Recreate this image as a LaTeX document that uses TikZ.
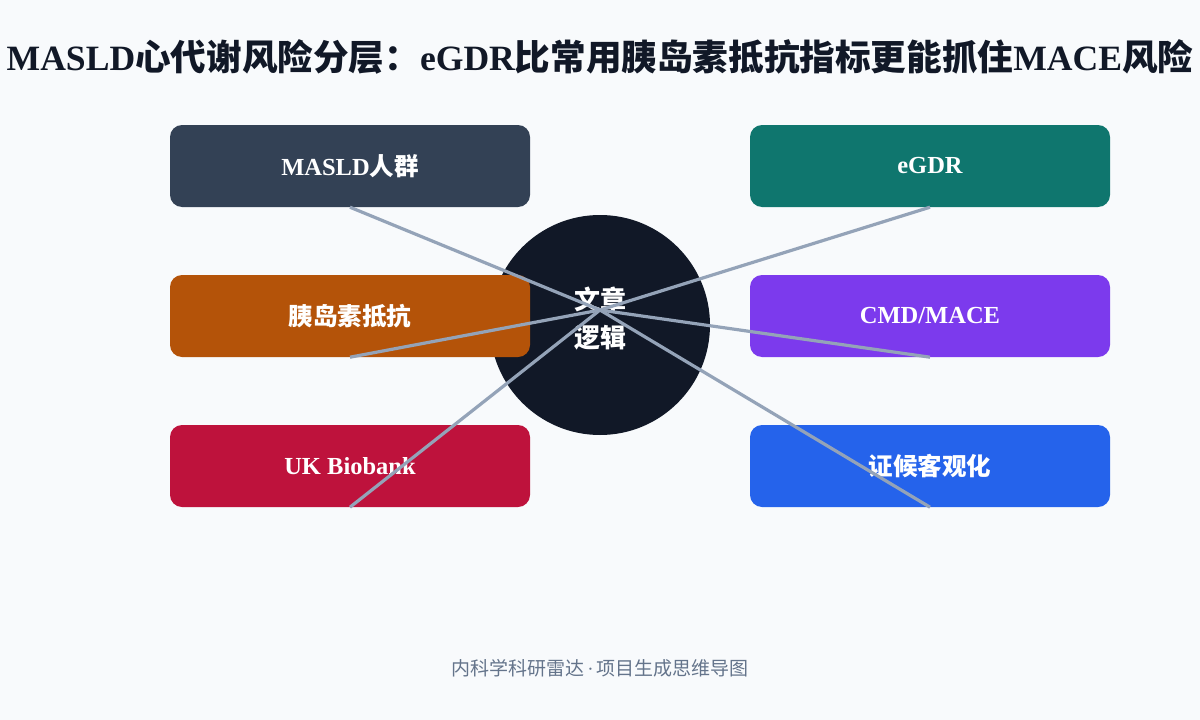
\documentclass[tikz,border=0pt]{standalone}
\usepackage{fontspec}
\setmainfont{Liberation Serif}
\newfontfamily\cjk{Noto Sans CJK SC}
\newcommand{\zh}[1]{{\cjk #1}}
\usetikzlibrary{positioning}

\definecolor{bgc}{HTML}{F8FAFC}
\definecolor{ink}{HTML}{111827}
\definecolor{slate}{HTML}{334155}
\definecolor{teal}{HTML}{0F766E}
\definecolor{amber}{HTML}{B45309}
\definecolor{violet}{HTML}{7C3AED}
\definecolor{rose}{HTML}{BE123C}
\definecolor{azure}{HTML}{2563EB}
\definecolor{wire}{HTML}{94A3B8}
\definecolor{muted}{HTML}{64748B}

\begin{document}
\begin{tikzpicture}[
  x=1pt, y=-1pt,
  card/.style={rounded corners=12pt, minimum width=360pt, minimum height=82pt, text=white,
    font=\bfseries\fontsize{24.5}{28}\selectfont},
  hub/.style={circle, fill=ink, minimum size=220pt, text=white, align=center,
    font=\bfseries\fontsize{26}{38}\selectfont},
  link/.style={draw=wire, line width=3.2pt}
]
\fill[bgc] (0,0) rectangle (1200,720);
\useasboundingbox (0,0) rectangle (1200,720);

\node[text=ink, inner sep=0pt, font=\bfseries\fontsize{35.6}{40}\selectfont] (title) at (600,57)
  {MASLD\zh{心代谢风险分层：}eGDR\zh{比常用胰岛素抵抗指标更能抓住}MACE\zh{风险}};

\node[hub] (core) at (600,325) {};
\node[text=white, align=center, font=\bfseries\fontsize{26}{38}\selectfont] (corelbl) at (600,319)
  {\zh{文章}\\\zh{逻辑}};
\coordinate (knot) at (600,310);

\node[card, fill=slate] (masld) at (350,166) {MASLD\zh{人群}};
\node[card, fill=amber] (ir) at (350,316) {\zh{胰岛素抵抗}};
\node[card, fill=rose] (ukb) at (350,466) {UK Biobank};
\node[card, fill=teal] (egdr) at (930,166) {eGDR};
\node[card, fill=violet] (cmd) at (930,316) {CMD/MACE};
\node[card, fill=azure] (tcm) at (930,466) {\zh{证候客观化}};

\draw[link] (masld.south) -- (knot);
\draw[link] (ir.south) -- (knot);
\draw[link] (ukb.south) -- (knot);
\draw[link] (egdr.south) -- (knot);
\draw[link] (cmd.south) -- (knot);
\draw[link] (tcm.south) -- (knot);

\node[text=muted, font=\fontsize{19}{22}\selectfont] (foot) at (600,668)
  {\zh{内科学科研雷达}\,·\,\zh{项目生成思维导图}};
\end{tikzpicture}
\end{document}
